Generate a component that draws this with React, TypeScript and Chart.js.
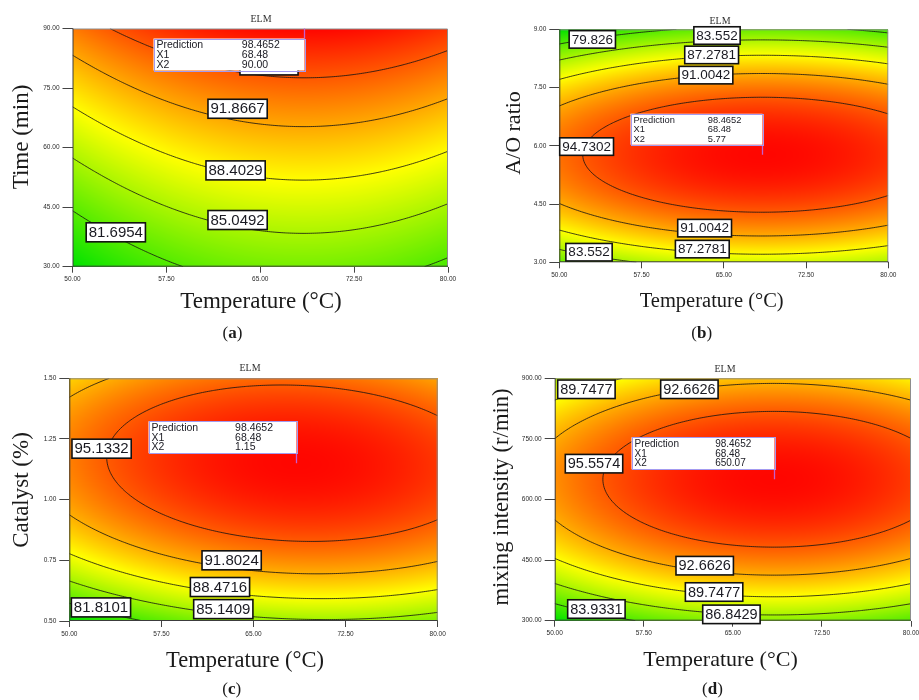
import React, { useEffect, useRef } from "react";
import { Chart, registerables } from "chart.js";

Chart.register(...registerables);

// ================= Data =================
const temperatureTicks = [50, 57.5, 65, 72.5, 80];
const timeTicks = [30, 45, 60, 75, 90];
const aoRatioTicks = [3, 4.5, 6, 7.5, 9];
const catalystTicks = [0.5, 0.75, 1.0, 1.25, 1.5];
const mixingTicks = [300, 450, 600, 750, 900];

// ELM yield estimated at each tick crossing. Rows follow the factor ticks (low -> high),
// columns follow the temperature ticks.
const elmTimeGrid = [
  [78.22, 81.31, 82.83, 82.77, 81.14],
  [81.92, 85.0, 86.52, 86.46, 84.83],
  [85.72, 88.81, 90.33, 90.27, 88.64],
  [89.65, 92.74, 94.25, 94.2, 92.57],
  [93.69, 96.78, 98.3, 98.24, 96.61],
];
const elmAoGrid = [
  [80.61, 83.7, 85.22, 85.16, 83.53],
  [90.94, 94.03, 95.55, 95.49, 93.86],
  [93.6, 96.69, 98.21, 98.15, 96.52],
  [88.59, 91.68, 93.19, 93.14, 91.51],
  [75.9, 78.99, 80.51, 80.45, 78.82],
];
const elmCatalystGrid = [
  [78.78, 82.39, 84.41, 84.86, 83.73],
  [87.73, 91.15, 92.98, 93.24, 91.91],
  [92.65, 95.87, 97.51, 97.57, 96.05],
  [93.53, 96.56, 98.01, 97.87, 96.16],
  [90.38, 93.21, 94.47, 94.14, 92.23],
];
const elmMixingGrid = [
  [81.07, 84.16, 85.67, 85.61, 83.99],
  [89.57, 92.66, 94.17, 94.12, 92.49],
  [93.44, 96.52, 98.04, 97.98, 96.35],
  [92.67, 95.75, 97.27, 97.21, 95.58],
  [87.26, 90.35, 91.86, 91.8, 90.18],
];

// contour levels printed on each panel
const levelsTime = [81.6954, 85.0492, 88.4029, 91.8667, 95.1104];
const levelsAo = [79.826, 83.552, 87.2781, 91.0042, 94.7302];
const levelsCatalyst = [81.8101, 85.1409, 88.4716, 91.8024, 95.1332];
const levelsMixing = [83.9331, 86.8429, 89.7477, 92.6626, 95.5574];

// optimum shown in the flag
const optimumPrediction = 98.4652;
const optimumTemperature = 68.48;
const optimumTime = 90.0;
const optimumAo = 5.77;
const optimumCatalyst = 1.15;
const optimumMixing = 650.07;

// ================= Layout (label spots: [level index, temperature, factor]) =================
const labelSpotsTime = [
  [4, 65.7, 80.7],
  [3, 63.19, 69.78],
  [2, 63.03, 54.26],
  [1, 63.19, 41.76],
  [0, 53.46, 38.66],
];
const labelSpotsAo = [
  [0, 53.01, 8.74],
  [1, 64.38, 8.84],
  [2, 63.89, 8.34],
  [3, 63.37, 7.82],
  [4, 52.49, 5.98],
  [3, 63.25, 3.88],
  [2, 63.04, 3.34],
  [1, 52.71, 3.26],
];
const labelSpotsCatalyst = [
  [4, 52.63, 1.21],
  [3, 63.22, 0.75],
  [2, 62.27, 0.64],
  [1, 62.54, 0.549],
  [0, 52.58, 0.556],
];
const labelSpotsMixing = [
  [2, 52.67, 872.8],
  [3, 61.34, 872.8],
  [4, 53.31, 688.7],
  [3, 62.63, 436.2],
  [2, 63.42, 371.0],
  [1, 64.88, 315.7],
  [0, 53.51, 328.9],
];

const SANS = '"Liberation Sans", Arial, sans-serif';
const SERIF = '"Liberation Serif", "Times New Roman", serif';

type PanelSpec = {
  letter: string;
  left: number;
  top: number;
  width: number;
  height: number;
  yWidth: number;
  padTop: number;
  padRight: number;
  xHeight: number;
  yTicks: number[];
  grid: number[][];
  levels: number[];
  spots: number[][];
  optY: number;
  xTitle: string;
  yTitle: string;
  elmPos: [number, number];
  xTitlePos: [number, number, number];
  yTitlePos: [number, number, number];
  letterPos: [number, number];
  labelFont: number;
  pred: { w: number; h: number; font: number; below: boolean };
};

const panels: PanelSpec[] = [
  {
    letter: "a", left: 0, top: 0, width: 460, height: 350,
    yWidth: 72.5, padTop: 28.5, padRight: 12, xHeight: 83.3,
    yTicks: timeTicks, grid: elmTimeGrid, levels: levelsTime, spots: labelSpotsTime, optY: optimumTime,
    xTitle: "Temperature (°C)", yTitle: "Time (min)",
    elmPos: [261, 19], xTitlePos: [261, 302, 23], yTitlePos: [22, 137, 23], letterPos: [232.5, 334],
    labelFont: 15, pred: { w: 151, h: 32, font: 10.5, below: true },
  },
  {
    letter: "b", left: 460, top: 0, width: 459, height: 350,
    yWidth: 99.3, padTop: 29.3, padRight: 30.7, xHeight: 87.7,
    yTicks: aoRatioTicks, grid: elmAoGrid, levels: levelsAo, spots: labelSpotsAo, optY: optimumAo,
    xTitle: "Temperature (°C)", yTitle: "A/O ratio",
    elmPos: [260, 21], xTitlePos: [251.7, 302, 20.5], yTitlePos: [54, 133, 22], letterPos: [241.7, 334],
    labelFont: 13.5, pred: { w: 132, h: 31, font: 9.3, below: false },
  },
  {
    letter: "c", left: 0, top: 350, width: 460, height: 350,
    yWidth: 69.3, padTop: 28.3, padRight: 22.3, xHeight: 79,
    yTicks: catalystTicks, grid: elmCatalystGrid, levels: levelsCatalyst, spots: labelSpotsCatalyst, optY: optimumCatalyst,
    xTitle: "Temperature (°C)", yTitle: "Catalyst (%)",
    elmPos: [250, 18], xTitlePos: [245, 311, 22.5], yTitlePos: [22, 140, 23], letterPos: [231.7, 340],
    labelFont: 15, pred: { w: 148, h: 32, font: 10.5, below: false },
  },
  {
    letter: "d", left: 460, top: 350, width: 459, height: 350,
    yWidth: 94.7, padTop: 28.3, padRight: 8, xHeight: 79.3,
    yTicks: mixingTicks, grid: elmMixingGrid, levels: levelsMixing, spots: labelSpotsMixing, optY: optimumMixing,
    xTitle: "Temperature (°C)", yTitle: "mixing intensity (r/min)",
    elmPos: [265, 19.3], xTitlePos: [260.5, 310, 22], yTitlePos: [42, 147, 22.6], letterPos: [252.5, 340],
    labelFont: 14.5, pred: { w: 143, h: 32, font: 10, below: false },
  },
];

// ================= Rendering helpers =================
function cr(p0: number, p1: number, p2: number, p3: number, t: number) {
  return 0.5 * (2 * p1 + (p2 - p0) * t + (2 * p0 - 5 * p1 + 4 * p2 - p3) * t * t + (3 * p1 - p0 - 3 * p2 + p3) * t * t * t);
}

// smooth (Catmull-Rom) surface through the grid values
function makeField(xs: number[], ys: number[], grid: number[][]) {
  const nx = xs.length;
  const ny = ys.length;
  const ext = (r: number[]) => [3 * r[0] - 3 * r[1] + r[2], ...r, 3 * r[nx - 1] - 3 * r[nx - 2] + r[nx - 3]];
  const rows = grid.map(ext);
  const lowG = rows[0].map((_, i) => 3 * rows[0][i] - 3 * rows[1][i] + rows[2][i]);
  const highG = rows[0].map((_, i) => 3 * rows[ny - 1][i] - 3 * rows[ny - 2][i] + rows[ny - 3][i]);
  const E = [lowG, ...rows, highG];
  const dx = xs[1] - xs[0];
  const dy = ys[1] - ys[0];
  return (x: number, y: number) => {
    const u = (x - xs[0]) / dx;
    const v = (y - ys[0]) / dy;
    const i = Math.min(Math.max(Math.floor(u), 0), nx - 2);
    const j = Math.min(Math.max(Math.floor(v), 0), ny - 2);
    const tx = u - i;
    const ty = v - j;
    const c: number[] = [];
    for (let k = 0; k < 4; k++) {
      const r = E[j + k];
      c.push(cr(r[i], r[i + 1], r[i + 2], r[i + 3], tx));
    }
    return cr(c[0], c[1], c[2], c[3], ty);
  };
}

function heatColor(t: number): [number, number, number] {
  const s0 = Math.min(1, Math.max(0, t));
  if (s0 < 0.5) {
    const s = s0 / 0.5;
    return [Math.round(255 * s), Math.round(226 + 29 * s), 0];
  }
  const s = (s0 - 0.5) / 0.5;
  return [255, Math.round(255 * (1 - s) + 6 * s), 0];
}

const SEG: number[][][] = [
  [], [[3, 0]], [[0, 1]], [[3, 1]], [[1, 2]], [[3, 0], [1, 2]], [[0, 2]], [[3, 2]],
  [[2, 3]], [[0, 2]], [[0, 1], [2, 3]], [[1, 2]], [[1, 3]], [[0, 1]], [[0, 3]], [],
];

function makePanelPlugin(p: PanelSpec) {
  const field = makeField(temperatureTicks, p.yTicks, p.grid);
  return {
    id: "panel-" + p.letter,
    beforeDatasetsDraw(chart: any) {
      const { ctx, chartArea: a, scales } = chart;
      const xs = scales.x;
      const ys = scales.y;
      const aw = a.right - a.left;
      const ah = a.bottom - a.top;
      const w = Math.max(1, Math.round(aw));
      const h = Math.max(1, Math.round(ah));
      const vals = new Float64Array(w * h);
      let lo = Infinity;
      let hi = -Infinity;
      for (let py = 0; py < h; py++) {
        const yv = ys.getValueForPixel(a.top + ((py + 0.5) * ah) / h);
        for (let px = 0; px < w; px++) {
          const xv = xs.getValueForPixel(a.left + ((px + 0.5) * aw) / w);
          const v = field(xv, yv);
          vals[py * w + px] = v;
          if (v < lo) lo = v;
          if (v > hi) hi = v;
        }
      }
      const off = document.createElement("canvas");
      off.width = w;
      off.height = h;
      const octx = off.getContext("2d")!;
      const img = octx.createImageData(w, h);
      for (let k = 0; k < w * h; k++) {
        const [r, g, b] = heatColor((vals[k] - lo) / (hi - lo));
        img.data[4 * k] = r;
        img.data[4 * k + 1] = g;
        img.data[4 * k + 2] = b;
        img.data[4 * k + 3] = 255;
      }
      octx.putImageData(img, 0, 0);
      ctx.save();
      ctx.drawImage(off, a.left, a.top, aw, ah);

      // contour lines (marching squares on the smooth surface)
      ctx.beginPath();
      ctx.rect(a.left, a.top, aw, ah);
      ctx.clip();
      const NX = 180;
      const NY = 120;
      const x0 = xs.min, x1 = xs.max, y0 = ys.min, y1 = ys.max;
      const gx = (x1 - x0) / NX;
      const gy = (y1 - y0) / NY;
      const S = new Float64Array((NX + 1) * (NY + 1));
      for (let j = 0; j <= NY; j++) for (let i = 0; i <= NX; i++) S[j * (NX + 1) + i] = field(x0 + i * gx, y0 + j * gy);
      ctx.strokeStyle = "rgba(20,20,20,0.9)";
      ctx.lineWidth = 0.9;
      for (const L of p.levels) {
        ctx.beginPath();
        for (let j = 0; j < NY; j++) {
          for (let i = 0; i < NX; i++) {
            const v0 = S[j * (NX + 1) + i];
            const v1 = S[j * (NX + 1) + i + 1];
            const v2 = S[(j + 1) * (NX + 1) + i + 1];
            const v3 = S[(j + 1) * (NX + 1) + i];
            const idx = (v0 > L ? 1 : 0) | (v1 > L ? 2 : 0) | (v2 > L ? 4 : 0) | (v3 > L ? 8 : 0);
            if (idx === 0 || idx === 15) continue;
            const xi = x0 + i * gx;
            const yj = y0 + j * gy;
            const edge = (e: number): [number, number] => {
              if (e === 0) return [xi + ((L - v0) / (v1 - v0)) * gx, yj];
              if (e === 1) return [xi + gx, yj + ((L - v1) / (v2 - v1)) * gy];
              if (e === 2) return [xi + ((L - v3) / (v2 - v3)) * gx, yj + gy];
              return [xi, yj + ((L - v0) / (v3 - v0)) * gy];
            };
            for (const [ea, eb] of SEG[idx]) {
              const pa = edge(ea);
              const pb = edge(eb);
              ctx.moveTo(xs.getPixelForValue(pa[0]), ys.getPixelForValue(pa[1]));
              ctx.lineTo(xs.getPixelForValue(pb[0]), ys.getPixelForValue(pb[1]));
            }
          }
        }
        ctx.stroke();
      }
      ctx.restore();
    },
    afterDatasetsDraw(chart: any) {
      const { ctx, chartArea: a, scales } = chart;
      const xs = scales.x;
      const ys = scales.y;
      ctx.save();
      // frame
      ctx.lineWidth = 1;
      ctx.strokeStyle = "#8d8d8d";
      ctx.beginPath();
      ctx.moveTo(a.left, a.top + 0.5);
      ctx.lineTo(a.right - 0.5, a.top + 0.5);
      ctx.lineTo(a.right - 0.5, a.bottom);
      ctx.stroke();
      ctx.strokeStyle = "#3c3c3c";
      ctx.beginPath();
      ctx.moveTo(a.left + 0.5, a.top);
      ctx.lineTo(a.left + 0.5, a.bottom - 0.5);
      ctx.lineTo(a.right, a.bottom - 0.5);
      ctx.stroke();

      // contour value boxes
      ctx.font = `${p.labelFont}px ${SANS}`;
      ctx.textAlign = "center";
      ctx.textBaseline = "middle";
      for (const [li, lx, ly] of p.spots) {
        const text = String(p.levels[li]);
        const cx = xs.getPixelForValue(lx);
        const cy = ys.getPixelForValue(ly);
        const tw = ctx.measureText(text).width;
        const bw = tw + 5;
        const bh = p.labelFont + 4;
        ctx.fillStyle = "#ffffff";
        ctx.fillRect(cx - bw / 2, cy - bh / 2, bw, bh);
        ctx.lineWidth = 1.6;
        ctx.strokeStyle = "#111";
        ctx.strokeRect(cx - bw / 2, cy - bh / 2, bw, bh);
        ctx.fillStyle = "#1a1a22";
        ctx.fillText(text, cx, cy + 0.5);
      }

      // prediction flag anchored on the optimum point
      const el = chart.getDatasetMeta(0).data[0];
      const px = Math.round(el.x) + 0.5;
      const py = el.y;
      const { w: bw, h: bh, font, below } = p.pred;
      const gap = 10;
      const bx = px - bw;
      const by = below ? py + gap : py - gap - bh;
      ctx.strokeStyle = "#c35fcf";
      ctx.lineWidth = 1.3;
      ctx.beginPath();
      ctx.moveTo(px, py);
      ctx.lineTo(px, below ? by : by + bh);
      ctx.stroke();
      ctx.fillStyle = "#ffffff";
      ctx.fillRect(bx, by, bw, bh);
      ctx.strokeStyle = "#a39af0";
      ctx.lineWidth = 1;
      ctx.strokeRect(Math.round(bx) + 0.5, Math.round(by) + 0.5, bw, bh);
      const rows = [
        ["Prediction", optimumPrediction.toFixed(4)],
        ["X1", optimumTemperature.toFixed(2)],
        ["X2", p.optY.toFixed(2)],
      ];
      ctx.font = `${font}px ${SANS}`;
      ctx.fillStyle = "#202028";
      ctx.textAlign = "left";
      ctx.textBaseline = "middle";
      const sc = bh / 32;
      rows.forEach((r, k) => {
        const ry = by + (7 + k * 9.6) * sc;
        ctx.fillText(r[0], bx + 3, ry);
        ctx.fillText(r[1], bx + 0.585 * bw, ry);
      });
      ctx.restore();
    },
    afterDraw(chart: any) {
      const ctx = chart.ctx;
      ctx.save();
      ctx.fillStyle = "#333";
      ctx.textAlign = "center";
      ctx.textBaseline = "middle";
      ctx.font = `10px ${SERIF}`;
      ctx.fillText("ELM", p.elmPos[0], p.elmPos[1]);

      ctx.fillStyle = "#1a1a1a";
      ctx.font = `${p.xTitlePos[2]}px ${SERIF}`;
      ctx.fillText(p.xTitle, p.xTitlePos[0], p.xTitlePos[1]);

      ctx.save();
      ctx.translate(p.yTitlePos[0], p.yTitlePos[1]);
      ctx.rotate(-Math.PI / 2);
      ctx.font = `${p.yTitlePos[2]}px ${SERIF}`;
      ctx.fillText(p.yTitle, 0, 0);
      ctx.restore();

      // panel letter "(x)" with bold letter
      const parts: [string, string][] = [
        ["(", `17px ${SERIF}`],
        [p.letter, `bold 17px ${SERIF}`],
        [")", `17px ${SERIF}`],
      ];
      let total = 0;
      for (const [t, f] of parts) {
        ctx.font = f;
        total += ctx.measureText(t).width;
      }
      let cx = p.letterPos[0] - total / 2;
      ctx.textAlign = "left";
      for (const [t, f] of parts) {
        ctx.font = f;
        ctx.fillText(t, cx, p.letterPos[1]);
        cx += ctx.measureText(t).width;
      }
      ctx.restore();
    },
  };
}

function buildConfig(p: PanelSpec): any {
  const tickFont = { family: SANS, size: 6.5 };
  return {
    type: "scatter",
    data: {
      datasets: [
        {
          label: "Prediction",
          data: [{ x: optimumTemperature, y: p.optY }],
          pointRadius: 0,
          pointHoverRadius: 0,
          showLine: false,
        },
      ],
    },
    options: {
      animation: false,
      responsive: false,
      devicePixelRatio: 1,
      events: [],
      layout: { padding: { left: 0, top: p.padTop, right: p.padRight, bottom: 0 } },
      plugins: { legend: { display: false }, tooltip: { enabled: false }, title: { display: false } },
      scales: {
        x: {
          type: "linear",
          min: temperatureTicks[0],
          max: temperatureTicks[temperatureTicks.length - 1],
          afterBuildTicks: (s: any) => {
            s.ticks = temperatureTicks.map((v) => ({ value: v }));
          },
          afterFit: (s: any) => {
            s.height = p.xHeight;
            s.paddingLeft = 0;
            s.paddingRight = 0;
          },
          ticks: {
            callback: (v: any) => Number(v).toFixed(2),
            font: tickFont,
            color: "#2a2a2a",
            padding: 3,
            maxRotation: 0,
            autoSkip: false,
          },
          grid: { drawOnChartArea: false, drawTicks: true, tickLength: 6, color: "#444" },
          border: { display: false },
        },
        y: {
          type: "linear",
          min: p.yTicks[0],
          max: p.yTicks[p.yTicks.length - 1],
          afterBuildTicks: (s: any) => {
            s.ticks = p.yTicks.map((v) => ({ value: v }));
          },
          afterFit: (s: any) => {
            s.width = p.yWidth;
            s.paddingTop = 0;
            s.paddingBottom = 0;
          },
          ticks: {
            callback: (v: any) => Number(v).toFixed(2),
            font: tickFont,
            color: "#2a2a2a",
            padding: 3,
            autoSkip: false,
          },
          grid: { drawOnChartArea: false, drawTicks: true, tickLength: 10, color: "#444" },
          border: { display: false },
        },
      },
    },
    plugins: [makePanelPlugin(p)],
  };
}

function PanelChart({ spec }: { spec: PanelSpec }) {
  const ref = useRef<HTMLCanvasElement>(null);
  useEffect(() => {
    if (!ref.current) return;
    const chart = new Chart(ref.current, buildConfig(spec));
    return () => chart.destroy();
  }, [spec]);
  return (
    <canvas
      ref={ref}
      width={spec.width}
      height={spec.height}
      style={{ position: "absolute", left: spec.left, top: spec.top, width: spec.width, height: spec.height }}
    />
  );
}

export default function App() {
  return (
    <div style={{ position: "absolute", left: 0, top: 0, width: 919, height: 700, background: "#ffffff", overflow: "hidden" }}>
      {panels.map((p) => (
        <PanelChart key={p.letter} spec={p} />
      ))}
    </div>
  );
}
